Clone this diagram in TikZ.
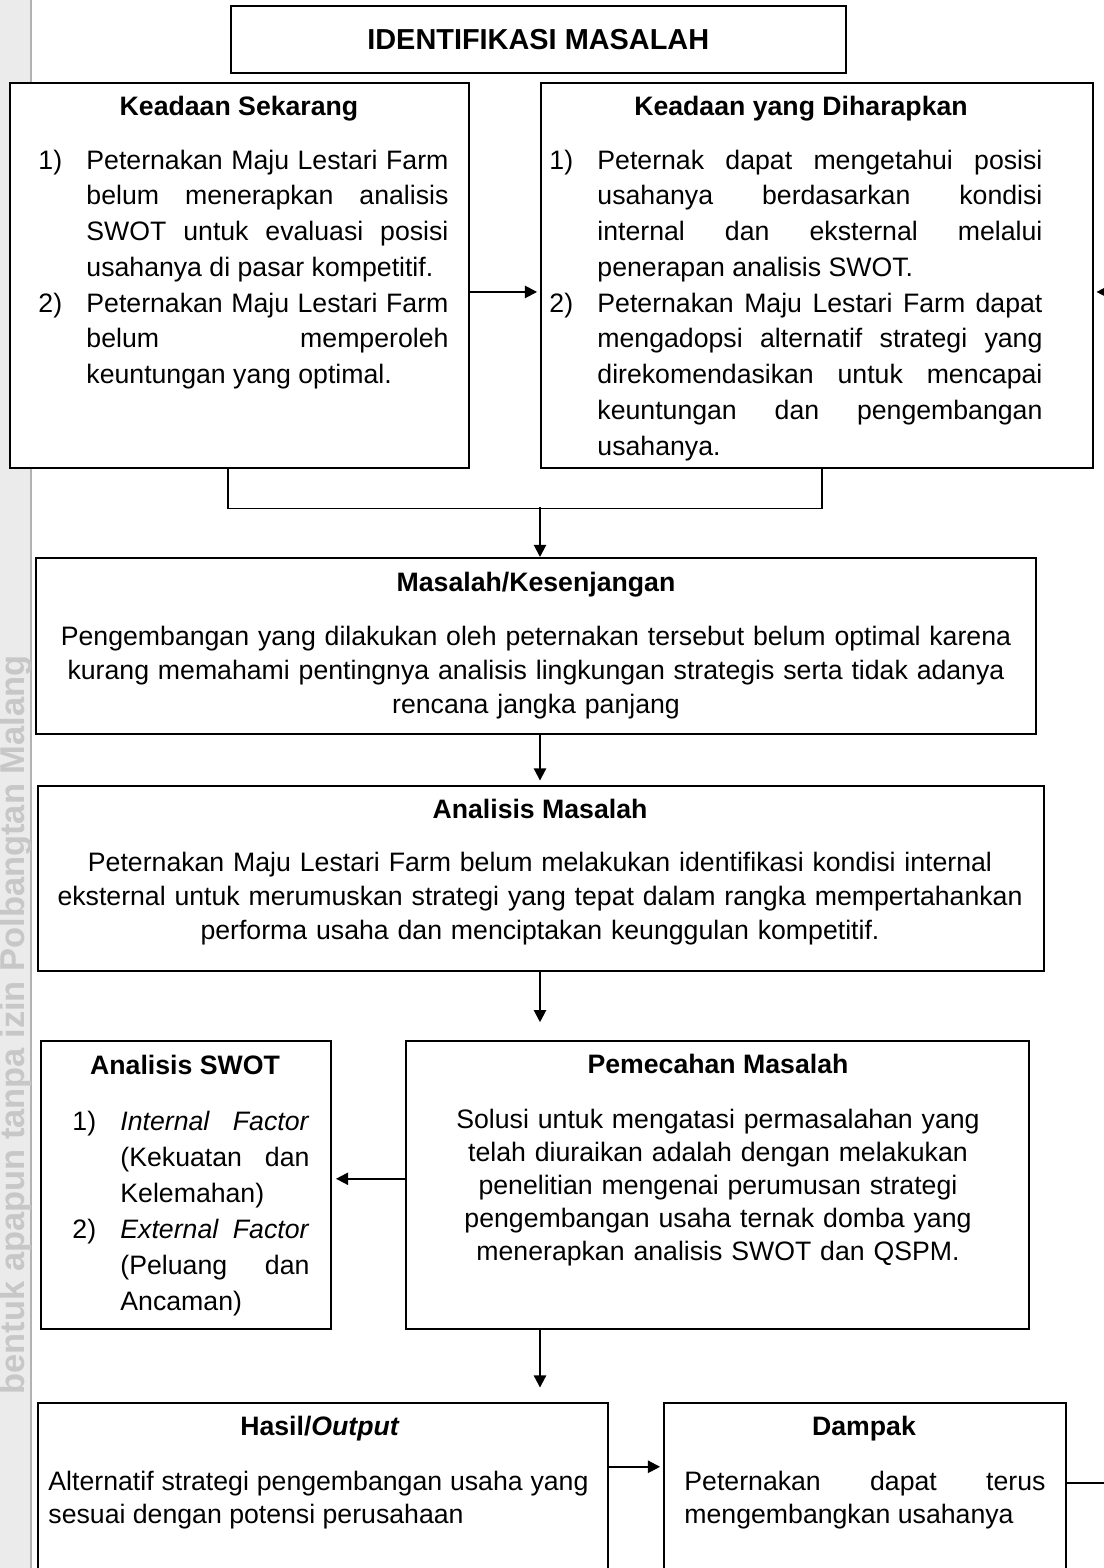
\documentclass[tikz,border=0pt]{standalone}
\usepackage{fontspec}
\setmainfont{Liberation Sans}
\usetikzlibrary{arrows.meta,positioning}

\hbadness=10000
\tolerance=9999
\hyphenpenalty=10000

\newcommand{\butir}[2]{\leftskip=21.6pt\noindent\llap{\makebox[21.6pt][l]{#1}}#2\par}

\begin{document}
\begin{tikzpicture}[
    x=0.45pt, y=-0.45pt,
    box/.style 2 args={draw, fill=white, line width=0.7pt, anchor=north west, inner sep=0pt,
      minimum width=#1*0.45pt, minimum height=#2*0.45pt},
    judul/.style={font=\fontsize{12}{14}\selectfont\bfseries, anchor=base, inner sep=0pt},
    daftar/.style={anchor=base west, inner sep=0pt, align=justify, font=\fontsize{12}{16.1}\selectfont},
    isi/.style={anchor=base, inner sep=0pt, align=center, font=\fontsize{12}{15.3}\selectfont},
    link/.style={-{Triangle[length=5.5pt, width=5.5pt]}, line width=0.9pt},
    garis/.style={line width=0.7pt}
    ]
    \useasboundingbox (0,0) rectangle (1104,1568);
    \clip (0,0) rectangle (1104,1568);

    % tepi halaman dan tanda air
    \fill[black!8] (0,0) rectangle (31,1568);
    \draw[black!30, line width=1pt] (31,0) -- (31,1568);
    \node[rotate=90, text=black!22, font=\fontsize{15.5}{17}\selectfont\bfseries, inner sep=0pt] (tandaair) at (16,1025) {bentuk apapun tanpa izin Polbangtan Malang};

    % identifikasi masalah
    \node[box={615}{67}, font=\fontsize{13}{15}\selectfont\bfseries] (identifikasi) at (230,5) {IDENTIFIKASI MASALAH};

    \node[box={459}{385}] (kini) at (9,82) {};
    \node[judul] (kiniJudul) at (239,115) {Keadaan Sekarang};
    \node[daftar, text width=184.5pt] (kiniIsi) at (38,169) {%
      \butir{1)}{Peternakan Maju Lestari Farm\linebreak belum menerapkan analisis\linebreak SWOT untuk evaluasi posisi\linebreak usahanya di pasar kompetitif.}%
      \butir{2)}{Peternakan Maju Lestari Farm\linebreak belum memperoleh\linebreak keuntungan yang optimal.}%
    };

    \node[box={552}{385}] (harap) at (540,82) {};
    \node[judul] (harapJudul) at (801,115) {Keadaan yang Diharapkan};
    \node[daftar, text width=221.85pt] (harapIsi) at (549,169) {%
      \butir{1)}{Peternak dapat mengetahui posisi\linebreak usahanya berdasarkan kondisi\linebreak internal dan eksternal melalui\linebreak penerapan analisis SWOT.}%
      \butir{2)}{Peternakan Maju Lestari Farm dapat\linebreak mengadopsi alternatif strategi yang\linebreak direkomendasikan untuk mencapai\linebreak keuntungan dan pengembangan\linebreak usahanya.}%
    };

    % masalah
    \node[box={1000}{176}] (masalah) at (35,557) {};
    \node[judul] (masalahJudul) at (536,591) {Masalah/Kesenjangan};
    \node[isi, text width=440pt] (masalahIsi) at (536,645) {Pengembangan yang dilakukan oleh peternakan tersebut belum optimal karena\\
      kurang memahami pentingnya analisis lingkungan strategis serta tidak adanya\\
      rencana jangka panjang};

    \node[box={1006}{185}] (analisis) at (37,785) {};
    \node[judul] (analisisJudul) at (540,818) {Analisis Masalah};
    \node[isi, font=\fontsize{12}{15.5}\selectfont, text width=440pt] (analisisIsi) at (540,871) {Peternakan Maju Lestari Farm belum melakukan identifikasi kondisi internal\\
      eksternal untuk merumuskan strategi yang tepat dalam rangka mempertahankan\\
      performa usaha dan menciptakan keunggulan kompetitif.};

    % pemecahan
    \node[box={290}{288}] (swot) at (40,1040) {};
    \node[judul] (swotJudul) at (185,1074) {Analisis SWOT};
    \node[daftar, font=\fontsize{12}{16.2}\selectfont, text width=106.65pt] (swotIsi) at (72,1130) {%
      \butir{1)}{\textit{Internal Factor}\linebreak (Kekuatan dan\linebreak Kelemahan)}%
      \butir{2)}{\textit{External Factor}\linebreak (Peluang dan\linebreak Ancaman)}%
    };

    \node[box={623}{288}] (pecah) at (405,1040) {};
    \node[judul] (pecahJudul) at (718,1073) {Pemecahan Masalah};
    \node[isi, font=\fontsize{12}{14.85}\selectfont, text width=270pt] (pecahIsi) at (718,1128) {Solusi untuk mengatasi permasalahan yang\\
      telah diuraikan adalah dengan melakukan\\
      penelitian mengenai perumusan strategi\\
      pengembangan usaha ternak domba yang\\
      menerapkan analisis SWOT dan QSPM.};

    % hasil dan dampak
    \node[box={570}{200}] (hasil) at (37,1402) {};
    \node[judul] (hasilJudul) at (320,1435) {Hasil/\textit{Output}};
    \node[daftar, font=\fontsize{12}{14.85}\selectfont, text width=243pt] (hasilIsi) at (48,1490) {Alternatif strategi pengembangan usaha yang\linebreak sesuai dengan potensi perusahaan};

    \node[box={402}{200}] (dampak) at (663,1402) {};
    \node[judul] (dampakJudul) at (864,1435) {Dampak};
    \node[daftar, font=\fontsize{12}{14.85}\selectfont, text width=162.45pt] (dampakIsi) at (684,1490) {Peternakan dapat terus\linebreak mengembangkan usahanya};

    % penghubung
    \coordinate (gabung) at (540,507);
    \draw[link, shorten >=1.3pt] ([yshift=-7.5pt]kini.east) -- ([yshift=-7.5pt]harap.west);
    \draw[garis] (kini.south -| 228,0) -- ++(0,40) -| (harap.south -| 822,0);
    \draw[link] (gabung) -- (gabung |- masalah.north);
    \draw[link, shorten >=2pt] (masalah.south -| gabung) -- (analisis.north -| gabung);
    \draw[link, shorten >=8pt] (analisis.south -| gabung) -- (pecah.north -| gabung);
    \draw[link, shorten >=2pt] ([yshift=2.7pt]pecah.west) -- ([yshift=2.7pt]swot.east);
    \draw[link, shorten >=6.5pt] (pecah.south -| gabung) -- (hasil.north -| gabung);
    \draw[link, shorten >=1.3pt] ([yshift=16.2pt]hasil.east) -- ([yshift=16.2pt]dampak.west);
    \draw[link, shorten >=1.3pt] ([yshift=9pt]dampak.east) -- ++(60,0) |- ([yshift=-7.5pt]harap.east);
\end{tikzpicture}
\end{document}
